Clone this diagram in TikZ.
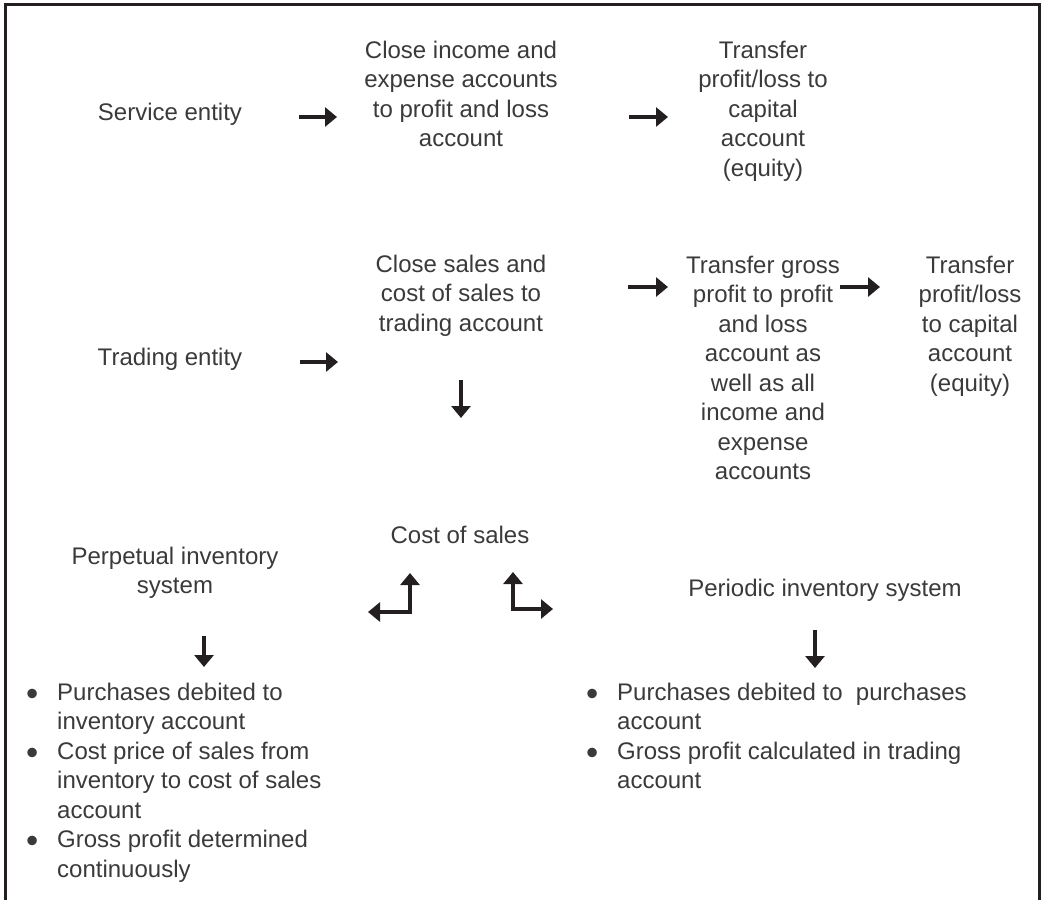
\documentclass[tikz,border=0pt]{standalone}
\usepackage{fontspec}
\setmainfont{Liberation Sans}
\usetikzlibrary{arrows.meta}
\definecolor{ink}{HTML}{231F20}
\definecolor{txt}{HTML}{3A3A3A}
% centred block of lines whose baseline is the first line's
\newcommand\mlines[1]{\begin{tabular}[t]{@{}c@{}}#1\end{tabular}}
% bulleted block, bullet column of fixed width
\newcommand\blist[1]{\begin{tabular}[t]{@{}l@{}l@{}}#1\end{tabular}}
\newcommand\bitem{\makebox[31pt][l]{\raisebox{-5pt}{\scalebox{1.45}{\textbullet}}}}
\begin{document}
\begin{tikzpicture}[x=1pt,y=-1pt,
  lbl/.style={inner sep=0pt, text=txt, font=\fontsize{24}{29.5}\selectfont, anchor=base},
  tipshape/.tip={Triangle[length=12pt,width=19pt]},
  flow/.style={draw=ink, line width=3.2pt, -tipshape},
  twoway/.style={draw=ink, line width=3.2pt, tipshape-tipshape}]
\useasboundingbox (0,0) rectangle (1041,900);

% open frame (no bottom edge)
\draw[ink, line width=3pt] (5.5,900) -- (5.5,4.5) -- (1039.5,4.5) -- (1039.5,900);

% service entity row
\node[lbl] (service) at (170,120) {Service entity};
\node[lbl] (closeinc) at (461,58) {\mlines{Close income and\\expense accounts\\to profit and loss\\account}};
\node[lbl] (transferA) at (763,58) {\mlines{Transfer\\profit/loss to\\capital\\account\\(equity)}};

% trading entity row
\node[lbl] (trading) at (170,365) {Trading entity};
\node[lbl] (closesales) at (461,272) {\mlines{Close sales and\\cost of sales to\\trading account}};
\node[lbl] (gross) at (763,273) {\mlines{Transfer gross\\profit to profit\\and loss\\account as\\well as all\\income and\\expense\\accounts}};
\node[lbl] (transferB) at (970,273) {\mlines{Transfer\\profit/loss\\to capital\\account\\(equity)}};

% cost of sales and the two inventory systems
\node[lbl] (cos) at (460,543) {Cost of sales};
\node[lbl] (perpetual) at (175,564) {\mlines{Perpetual inventory\\system}};
\node[lbl] (periodic) at (825,596) {Periodic inventory system};

\node[lbl, anchor=base west] (perplist) at (26,700) {\blist{%
  \bitem & Purchases debited to\\
         & inventory account\\
  \bitem & Cost price of sales from\\
         & inventory to cost of sales\\
         & account\\
  \bitem & Gross profit determined\\
         & continuously}};
\node[lbl, anchor=base west] (perilist) at (586,700) {\blist{%
  \bitem & Purchases debited to\ \ purchases\\
         & account\\
  \bitem & Gross profit calculated in trading\\
         & account}};

% arrow end points
\coordinate (a1s) at (299,117);  \coordinate (a1e) at (337,117);
\coordinate (a2s) at (629,117);  \coordinate (a2e) at (668,117);
\coordinate (a3s) at (300,362);  \coordinate (a3e) at (338,362);
\coordinate (a4s) at (628,287);  \coordinate (a4e) at (668,287);
\coordinate (a5s) at (840,287);  \coordinate (a5e) at (880,287);
\coordinate (a6s) at (461,380);  \coordinate (a6e) at (461,418);
\coordinate (lA) at (368,612);   \coordinate (lB) at (410,573);
\coordinate (rA) at (513,572);   \coordinate (rB) at (553,609);
\coordinate (d1s) at (204,636);  \coordinate (d1e) at (204,667);
\coordinate (d2s) at (815,630);  \coordinate (d2e) at (815,668);

\draw[flow] (a1s) -- (a1e);
\draw[flow] (a2s) -- (a2e);
\draw[flow] (a3s) -- (a3e);
\draw[flow] (a4s) -- (a4e);
\draw[flow] (a5s) -- (a5e);
\draw[flow] (a6s) -- (a6e);
\draw[twoway] (lA) -| (lB);
\draw[twoway] (rA) |- (rB);
\draw[flow] (d1s) -- (d1e);
\draw[flow] (d2s) -- (d2e);
\end{tikzpicture}
\end{document}
